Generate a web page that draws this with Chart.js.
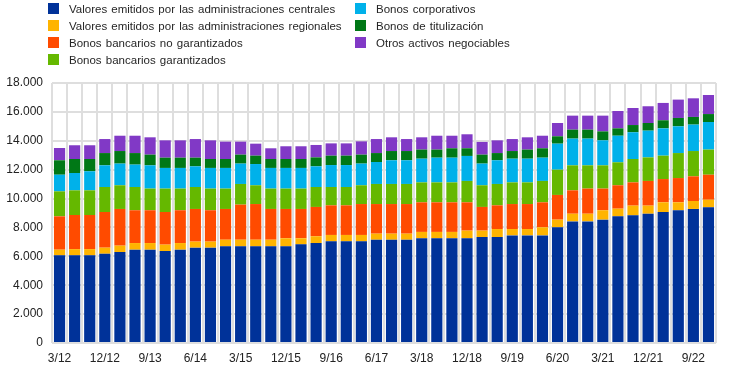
<!DOCTYPE html>
<html>
<head>
<meta charset="utf-8">
<script src="https://cdn.jsdelivr.net/npm/chart.js@4"></script>
<style>
  html, body { margin: 0; padding: 0; background: #fff; }
  #wrap { position: relative; width: 744px; height: 371px; }
  #legend { position: absolute; left: 0; top: 0; width: 744px; height: 70px; font-family: "Liberation Sans", Arial, sans-serif; font-size: 11.5px; color: #262626; }
  .item { position: absolute; height: 14px; line-height: 14px; white-space: nowrap; word-spacing: 1px; }
  .box { position: absolute; left: -21px; top: 1px; width: 11px; height: 11px; }
</style>
</head>
<body>
<div id="wrap">
  <canvas id="chart" width="744" height="371"></canvas>
  <div id="legend"></div>
</div>
<script>
/* eslint-disable no-undef */
const quarters = []
for (let y = 12; y <= 22; y++) {
  for (const m of [3, 6, 9, 12]) quarters.push(m + '/' + y)
}

const seriesNames = [
  'Valores emitidos por las administraciones centrales',
  'Valores emitidos por las administraciones regionales',
  'Bonos bancarios no garantizados',
  'Bonos bancarios garantizados',
  'Bonos corporativos',
  'Bonos  de titulización',
  'Otros activos negociables'
]
const seriesColors = ['#003299', '#FFB400', '#FF4B00', '#65B800', '#00B1EA', '#007816', '#8139C6']

// values in EUR bn
const centrales = [6070, 6070, 6070, 6180, 6300, 6460, 6460, 6370, 6460, 6600, 6600, 6690, 6690, 6690, 6690, 6690, 6830, 6920, 7040, 7040, 7040, 7150, 7150, 7150, 7250, 7250, 7250, 7250, 7340, 7340, 7450, 7450, 7450, 8010, 8420, 8420, 8540, 8770, 8840, 8950, 9070, 9190, 9280, 9390]
const regionales = [390, 430, 430, 420, 440, 460, 460, 440, 460, 420, 420, 460, 460, 460, 460, 560, 420, 470, 440, 440, 440, 420, 420, 420, 440, 440, 440, 530, 440, 550, 440, 440, 560, 530, 530, 530, 650, 530, 670, 560, 670, 550, 550, 530]
const noGarantizados = [2310, 2360, 2360, 2470, 2540, 2270, 2270, 2260, 2270, 2260, 2170, 2130, 2430, 2470, 2130, 2030, 2030, 2030, 2050, 2050, 2140, 2050, 2050, 2050, 2050, 2050, 2050, 1960, 1640, 1640, 1730, 1730, 1730, 1710, 1620, 1740, 1500, 1620, 1610, 1710, 1610, 1680, 1710, 1730]
const garantizados = [1730, 1710, 1710, 1730, 1640, 1610, 1500, 1620, 1500, 1520, 1500, 1410, 1430, 1300, 1410, 1410, 1410, 1380, 1270, 1270, 1300, 1390, 1390, 1390, 1380, 1380, 1380, 1480, 1500, 1480, 1500, 1500, 1480, 1750, 1730, 1610, 1610, 1590, 1620, 1630, 1620, 1730, 1750, 1740]
const corporativos = [1150, 1200, 1320, 1500, 1500, 1550, 1610, 1430, 1430, 1430, 1430, 1430, 1410, 1470, 1430, 1430, 1430, 1430, 1520, 1520, 1500, 1520, 1640, 1640, 1640, 1710, 1710, 1730, 1500, 1640, 1640, 1640, 1610, 1800, 1850, 1850, 1730, 1840, 1850, 1850, 1890, 1850, 1830, 1910]
const titulizacion = [1000, 970, 850, 850, 870, 800, 740, 710, 710, 600, 620, 620, 620, 580, 620, 620, 620, 620, 650, 650, 620, 620, 640, 640, 630, 560, 650, 530, 620, 500, 530, 630, 650, 510, 620, 620, 620, 510, 500, 530, 560, 580, 530, 550]
const otros = [850, 950, 950, 970, 1060, 1200, 1200, 1200, 1200, 1290, 1290, 1200, 900, 830, 740, 880, 880, 860, 850, 850, 920, 970, 950, 830, 850, 960, 870, 970, 880, 880, 830, 850, 870, 920, 970, 970, 1090, 1200, 1180, 1160, 1200, 1270, 1290, 1320]

const seriesValues = [centrales, regionales, noGarantizados, garantizados, corporativos, titulizacion, otros]

// legend, two columns like the original
const legendPos = [[69, 2], [69, 19], [69, 36], [69, 53], [376, 2], [376, 19], [376, 36]]
const legendEl = document.getElementById('legend')
seriesNames.forEach((name, i) => {
  const it = document.createElement('div')
  it.className = 'item'
  it.style.left = legendPos[i][0] + 'px'
  it.style.top = legendPos[i][1] + 'px'
  it.innerHTML = '<span class="box" style="background:' + seriesColors[i] + '"></span>' + name
  legendEl.appendChild(it)
})

const fmt = v => String(v).replace(/\B(?=(\d{3})+(?!\d))/g, '.')

const ctx = document.getElementById('chart').getContext('2d')
const chart = new Chart(ctx, {
  type: 'bar',
  data: {
    labels: quarters,
    datasets: seriesValues.map((vals, i) => ({
      label: seriesNames[i],
      data: vals,
      backgroundColor: seriesColors[i],
      barPercentage: 0.74,
      categoryPercentage: 1
    }))
  },
  options: {
    responsive: false,
    animation: false,
    layout: { padding: { left: 0, right: 28, top: 83, bottom: 0 } },
    plugins: {
      legend: { display: false },
      tooltip: { enabled: false }
    },
    scales: {
      x: {
        stacked: true,
        grid: { color: '#dedede', lineWidth: 2, drawTicks: false },
        border: { display: false },
        afterFit: s => { s.height = 28 },
        ticks: {
          autoSkip: false,
          maxRotation: 0,
          padding: 8,
          color: '#222',
          font: { family: 'Liberation Sans', size: 12 },
          callback: function (v, i) { return i % 3 === 0 ? this.getLabelForValue(v) : '' }
        }
      },
      y: {
        stacked: true,
        min: 0,
        max: 18000,
        grid: { color: '#dedede', lineWidth: 2, drawTicks: false },
        border: { display: false },
        afterFit: s => { s.width = 52 },
        ticks: {
          stepSize: 2000,
          padding: 9,
          color: '#222',
          font: { family: 'Liberation Sans', size: 12 },
          callback: v => fmt(v)
        }
      }
    }
  }
})
</script>
</body>
</html>
